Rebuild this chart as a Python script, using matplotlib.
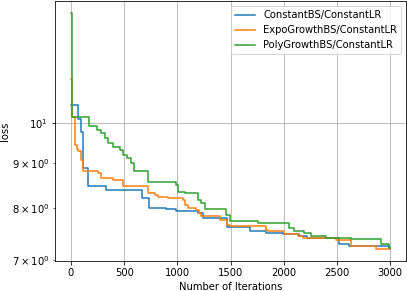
import matplotlib
matplotlib.use("Agg")
import matplotlib.pyplot as plt

# best-so-far loss (step curves)
const_iters = [0, 68, 94, 115, 160, 330, 669, 731, 897, 991, 1194, 1240, 1465,
               1678, 1834, 1990, 2147, 2215, 2515, 2616, 2984, 3000]
const_loss = [10.47, 10.11, 9.75, 8.89, 8.485, 8.40, 8.23, 8.02, 7.98, 7.94, 7.91,
              7.80, 7.62, 7.55, 7.50, 7.48, 7.45, 7.41, 7.30, 7.25, 7.22, 7.22]

expo_iters = [0, 8, 37, 55, 69, 91, 116, 256, 287, 397, 490, 725, 787, 819, 912,
              1053, 1069, 1100, 1172, 1200, 1219, 1397, 1465, 1490, 1834, 1850,
              2006, 2131, 2178, 2490, 2631, 2866, 3000]
expo_loss = [11.2, 10.14, 9.45, 9.35, 9.29, 9.08, 8.81, 8.77, 8.67, 8.62, 8.49,
             8.33, 8.29, 8.25, 8.23, 8.18, 8.08, 8.0, 7.97, 7.91, 7.85, 7.77, 7.67,
             7.64, 7.57, 7.54, 7.49, 7.45, 7.40, 7.37, 7.25, 7.20, 7.20]

poly_iters = [0, 8, 172, 247, 287, 319, 350, 397, 460, 490, 525, 569, 590, 725,
              912, 991, 1006, 1069, 1194, 1225, 1256, 1459, 1490, 1756, 2053, 2100,
              2194, 2260, 2397, 2631, 2912, 2984, 3000]
poly_loss = [13.3, 10.14, 9.92, 9.81, 9.73, 9.60, 9.48, 9.40, 9.32, 9.20, 9.12,
             9.0, 8.81, 8.58, 8.56, 8.51, 8.36, 8.33, 8.18, 8.11, 7.98, 7.87, 7.75,
             7.70, 7.60, 7.55, 7.50, 7.45, 7.41, 7.38, 7.30, 7.22, 7.22]

series = [
    ("ConstantBS/ConstantLR", const_iters, const_loss),
    ("ExpoGrowthBS/ConstantLR", expo_iters, expo_loss),
    ("PolyGrowthBS/ConstantLR", poly_iters, poly_loss),
]


def main() -> None:
    fig = plt.figure(figsize=(407 / 72, 291 / 72), dpi=72)
    ax = fig.add_axes([0.135, 0.104, 0.863, 0.891])
    for name, xs, ys in series:
        ax.plot(xs, ys, drawstyle="steps-post", label=name)
    ax.set_yscale("log")
    ax.set_xlabel("Number of Iterations")
    ax.set_ylabel("loss", labelpad=2)
    ax.grid(True)
    ax.legend(loc="upper right")
    fig.savefig("out.png", dpi=72)
    plt.close(fig)


if __name__ == "__main__":
    main()
